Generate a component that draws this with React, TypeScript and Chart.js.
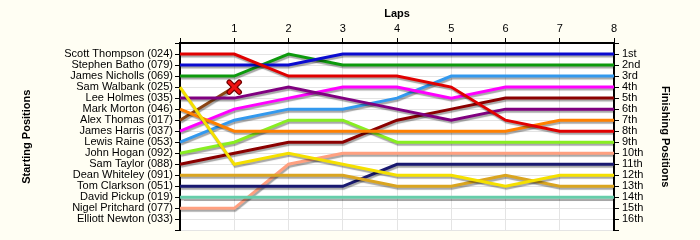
import React, { useEffect, useRef } from "react";
import { Chart, registerables } from "chart.js";

Chart.register(...registerables);

const laps = ["0", "1", "2", "3", "4", "5", "6", "7", "8"];

const drivers = [
  "Scott Thompson (024)",
  "Stephen Batho (079)",
  "James Nicholls (069)",
  "Sam Walbank (025)",
  "Lee Holmes (035)",
  "Mark Morton (046)",
  "Alex Thomas (017)",
  "James Harris (037)",
  "Lewis Raine (053)",
  "John Hogan (092)",
  "Sam Taylor (088)",
  "Dean Whiteley (091)",
  "Tom Clarkson (051)",
  "David Pickup (019)",
  "Nigel Pritchard (077)",
  "Elliott Newton (033)",
];

const finishLabels = [
  "1st", "2nd", "3rd", "4th", "5th", "6th", "7th", "8th",
  "9th", "10th", "11th", "12th", "13th", "14th", "15th", "16th",
];

// positions per lap (lap 0 = start)
const scottThompson = [1, 1, 3, 3, 3, 4, 7, 8, 8];
const stephenBatho = [2, 2, 2, 1, 1, 1, 1, 1, 1];
const jamesNicholls = [3, 3, 1, 2, 2, 2, 2, 2, 2];
const samWalbank = [4, 11, 10, 11, 12, 12, 13, 12, 12];
const leeHolmes = [5, 5, 4, 5, 6, 7, 6, 6, 6];
const markMorton = [6, 8, 8, 8, 8, 8, 8, 7, 7];
const alexThomas = [7, 4];
const jamesHarris = [8, 6, 5, 4, 4, 5, 4, 4, 4];
const lewisRaine = [9, 7, 6, 6, 5, 3, 3, 3, 3];
const johnHogan = [10, 9, 7, 7, 9, 9, 9, 9, 9];
const samTaylor = [11, 10, 9, 9, 7, 6, 5, 5, 5];
const deanWhiteley = [12, 12, 12, 12, 13, 13, 12, 13, 13];
const tomClarkson = [13, 13, 13, 13, 11, 11, 11, 11, 11];
const davidPickup = [14, 14, 14, 14, 14, 14, 14, 14, 14];
const nigelPritchard = [15, 15, 11, 10, 10, 10, 10, 10, 10];
const elliottNewton: number[] = [];

const seriesData = [
  scottThompson, stephenBatho, jamesNicholls, samWalbank, leeHolmes,
  markMorton, alexThomas, jamesHarris, lewisRaine, johnHogan, samTaylor,
  deanWhiteley, tomClarkson, davidPickup, nigelPritchard, elliottNewton,
];

const seriesColors = [
  "#e00000", "#0a0ad0", "#0d9a0d", "#f5e000", "#800080", "#ff8000",
  "#8b4513", "#ff00ff", "#3399ee", "#88ee22", "#8b0000", "#daa520",
  "#191970", "#66cdaa", "#ffa080", "#999999",
];

const crashDriverIndex = 6;
const crashLap = 1;

const bgPlugin = {
  id: "bgPlugin",
  beforeDraw(chart: any) {
    const { ctx, chartArea, width, height } = chart;
    ctx.save();
    ctx.fillStyle = "#fffef3";
    ctx.fillRect(0, 0, width, height);
    ctx.fillStyle = "#ffffff";
    ctx.fillRect(chartArea.left, chartArea.top, chartArea.right - chartArea.left, chartArea.bottom - chartArea.top);
    ctx.restore();
  },
};

const shadowPlugin = {
  id: "shadowPlugin",
  beforeDatasetDraw(chart: any) {
    const ctx = chart.ctx;
    ctx.save();
    ctx.shadowColor = "rgba(0,0,0,0.35)";
    ctx.shadowOffsetX = 1;
    ctx.shadowOffsetY = 2;
    ctx.shadowBlur = 1;
  },
  afterDatasetDraw(chart: any) {
    chart.ctx.restore();
  },
};

// crash marker: an outlined red X at the crash point, located through the dataset's own element
const crashPlugin = {
  id: "crashPlugin",
  afterDatasetsDraw(chart: any) {
    const meta = chart.getDatasetMeta(crashDriverIndex);
    const pt = meta && meta.data && meta.data[crashLap];
    if (!pt) return;
    const { ctx } = chart;
    const r = 5;
    const drawX = (color: string, w: number) => {
      ctx.beginPath();
      ctx.moveTo(pt.x - r, pt.y - r);
      ctx.lineTo(pt.x + r, pt.y + r);
      ctx.moveTo(pt.x + r, pt.y - r);
      ctx.lineTo(pt.x - r, pt.y + r);
      ctx.strokeStyle = color;
      ctx.lineWidth = w;
      ctx.lineCap = "round";
      ctx.stroke();
    };
    ctx.save();
    drawX("#700000", 5.5);
    drawX("#ee1111", 3);
    ctx.restore();
  },
};

const FONT = "'Liberation Sans', Arial, sans-serif";

export default function App() {
  const ref = useRef<HTMLCanvasElement | null>(null);

  useEffect(() => {
    document.body.style.margin = "0";
    const canvas = ref.current;
    if (!canvas) return;

    const datasets = drivers.map((name, i) => ({
      label: name,
      data: seriesData[i],
      borderColor: seriesColors[i],
      backgroundColor: seriesColors[i],
      borderWidth: 3,
      tension: 0,
      fill: false,
      pointRadius: 0,
      pointHoverRadius: 0,
      yAxisID: "y",
    }));

    const chart = new Chart(canvas, {
      type: "line",
      data: { labels: laps, datasets: datasets as any },
      options: {
        animation: false,
        responsive: false,
        events: [],
        layout: { padding: { left: 0, right: 0, top: 0, bottom: 8 } },
        plugins: {
          legend: { display: false },
          tooltip: { enabled: false },
        },
        scales: {
          x: {
            type: "category",
            position: "top",
            offset: false,
            afterFit(scale: any) {
              scale.height = 43;
            },
            title: {
              display: true,
              text: "Laps",
              color: "#000",
              font: { family: FONT, size: 11, weight: "bold" },
              padding: { top: 7, bottom: 0 },
            },
            ticks: {
              color: "#000",
              font: { family: FONT, size: 11 },
              padding: 2,
              autoSkip: false,
              maxRotation: 0,
              callback: (_v: any, i: number) => (i === 0 ? "" : laps[i]),
            },
            grid: {
              display: true,
              drawOnChartArea: true,
              color: "#e4e4e4",
              tickColor: "#000",
              tickLength: 5,
              lineWidth: 1,
            },
            border: { display: true, color: "#000", width: 2 },
          },
          y: {
            type: "linear",
            position: "left",
            min: 0,
            max: 17,
            reverse: true,
            afterFit(scale: any) {
              scale.width = 180;
            },
            title: {
              display: true,
              text: "Starting Positions",
              color: "#000",
              font: { family: FONT, size: 11, weight: "bold" },
              padding: { top: 20, bottom: 0 },
            },
            ticks: {
              stepSize: 1,
              autoSkip: false,
              color: "#000",
              font: { family: FONT, size: 11 },
              padding: 2,
              callback: (v: any) => drivers[Number(v) - 1] ?? "",
            },
            grid: {
              display: true,
              drawOnChartArea: true,
              color: "#e4e4e4",
              tickColor: "#000",
              tickLength: 5,
              lineWidth: 1,
            },
            border: { display: true, color: "#000", width: 2 },
          },
          y2: {
            type: "linear",
            position: "right",
            min: 0,
            max: 17,
            reverse: true,
            afterFit(scale: any) {
              scale.width = 86;
            },
            title: {
              display: true,
              text: "Finishing Positions",
              color: "#000",
              font: { family: FONT, size: 11, weight: "bold" },
              padding: { top: 28, bottom: 0 },
            },
            ticks: {
              stepSize: 1,
              autoSkip: false,
              color: "#000",
              font: { family: FONT, size: 11 },
              padding: 3,
              callback: (v: any) => finishLabels[Number(v) - 1] ?? "",
            },
            grid: {
              display: true,
              drawOnChartArea: false,
              tickColor: "#000",
              tickLength: 5,
              lineWidth: 1,
            },
            border: { display: true, color: "#000", width: 2 },
          },
        },
      } as any,
      plugins: [bgPlugin, shadowPlugin, crashPlugin],
    });

    return () => chart.destroy();
  }, []);

  return (
    <div style={{ width: 700, height: 240 }}>
      <canvas ref={ref} width={700} height={240} style={{ display: "block", width: 700, height: 240 }} />
    </div>
  );
}
